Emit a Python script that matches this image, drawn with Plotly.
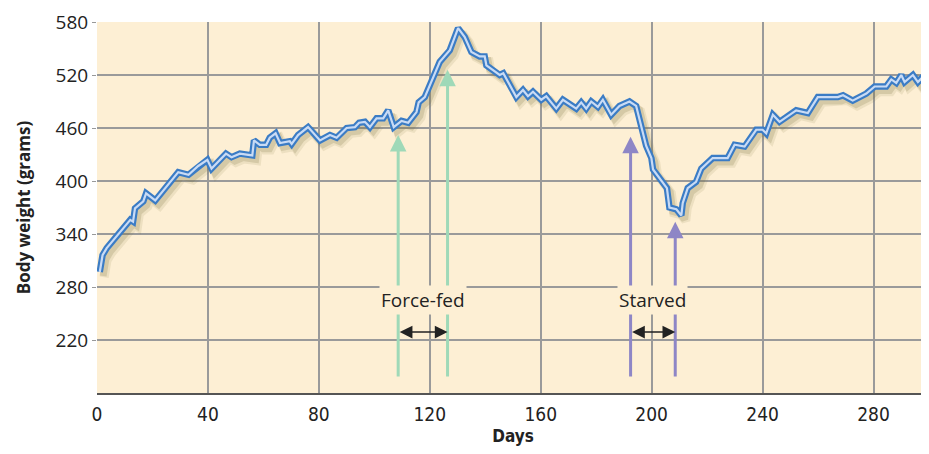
import plotly.graph_objects as go

# body weight curve
days = [1, 2, 3.5, 12, 13, 13.7, 16.7, 17.7, 21, 29.3, 33, 36.5, 39.8, 41.3,
        46.5, 48.5, 51.5, 56, 56.6, 58.7, 61, 62.3, 64.4, 66, 69.5, 70.2, 72.5,
        76.1, 80.4, 84, 86.4, 90, 93, 94.5, 96.6, 98.4, 100.8, 103.2, 105, 107,
        109.8, 112.2, 115.2, 116, 118.2, 123.6, 127.2, 130.2, 132.6, 135, 138,
        139.8, 140.4, 145.2, 146.5, 151.2, 153.6, 155.4, 157.2, 160.2, 162,
        165.6, 168, 172.8, 174.6, 176.4, 178.2, 180.6, 182.4, 185.4, 188.4, 192,
        194.4, 198, 199.9, 200.5, 205.5, 206.4, 208.9, 210.7, 211.2, 213, 216,
        217.9, 222, 227.4, 229.9, 233.5, 237.7, 240, 241.3, 243.7, 246.1, 252.1,
        256.3, 259.9, 267.1, 269, 272.5, 277.4, 280.4, 284.6, 286.4, 288.2, 290,
        291.2, 294.2, 296, 297.8, 300]
weight = [297, 316, 324, 356, 354, 369, 377, 386, 378, 410, 407, 417, 424, 414,
          431, 427, 431, 429, 446, 441, 441, 449, 454, 443, 445, 442, 452,
          461, 446, 452, 449, 460, 461, 466, 467, 461, 471, 471, 480, 461,
          468, 466, 478, 489, 495, 535, 548, 573, 563, 546, 541,
          541, 531, 520, 522, 495, 503, 496, 501, 492, 496,
          482, 492, 482, 489, 482, 490, 484, 492, 475, 485, 490,
          485, 440, 426, 413, 392, 370, 368, 361, 375, 392, 399,
          414, 426, 426, 441, 439, 458, 458, 454, 475, 467, 480,
          477, 495, 495, 497, 491, 499, 507, 507, 515, 511, 520,
          512, 520, 512, 518, 512]

# arrows: day, tip weight
fed_days = [108.6, 126.4]
fed_tips = [452, 526]
starve_days = [192.4, 208.5]
starve_tips = [450, 354]
arrow_base = 177
span_level = 229
label_level = 265

x_ticks = [0, 40, 80, 120, 160, 200, 240, 280]
y_ticks = [220, 280, 340, 400, 460, 520, 580]

BG = "#fdefd4"
GREEN = "#9fd9b8"
PURPLE = "#8e86c6"
NARROW = "Liberation Sans Narrow, DejaVu Sans Condensed, sans-serif"

fig = go.Figure()

# soft drop shadow under the line
for dx, dy, w, a in [(1.6, -6, 9, 0.12), (1.2, -4.5, 7, 0.2)]:
    fig.add_trace(go.Scatter(
        x=[d + dx for d in days], y=[v + dy for v in weight],
        mode="lines", line=dict(color="rgba(120,112,60,%s)" % a, width=w),
        hoverinfo="skip", showlegend=False))

fig.add_trace(go.Scatter(x=days, y=weight, mode="lines",
                         line=dict(color="#3b7cc5", width=6.5),
                         showlegend=False))
fig.add_trace(go.Scatter(x=days, y=weight, mode="lines",
                         line=dict(color="#c9dbf5", width=2.2),
                         showlegend=False, hoverinfo="skip"))

ann = []
for d, t in zip(fed_days, fed_tips):
    ann.append(dict(x=d, y=t, ax=d, ay=arrow_base, axref="x", ayref="y",
                    xref="x", yref="y", text="", showarrow=True,
                    arrowhead=2, arrowsize=1.1, arrowwidth=3,
                    arrowcolor=GREEN, standoff=0))
for d, t in zip(starve_days, starve_tips):
    ann.append(dict(x=d, y=t, ax=d, ay=arrow_base, axref="x", ayref="y",
                    xref="x", yref="y", text="", showarrow=True,
                    arrowhead=2, arrowsize=1.1, arrowwidth=3,
                    arrowcolor=PURPLE, standoff=0))
# double-headed span arrows
for pair in (fed_days, starve_days):
    ann.append(dict(x=pair[1], y=span_level, ax=pair[0], ay=span_level,
                    axref="x", ayref="y", xref="x", yref="y", text="",
                    showarrow=True, arrowside="end+start", arrowhead=2,
                    arrowsize=1.7, arrowwidth=1.5, arrowcolor="#222",
                    standoff=0, startstandoff=0))
# labels with a background so they break the lines behind them
for pair, label in ((fed_days, "Force-fed"), (starve_days, "Starved")):
    ann.append(dict(x=sum(pair) / 2, y=label_level, xref="x", yref="y",
                    text=label, showarrow=False, bgcolor=BG, borderpad=1,
                    font=dict(family="Open Sans, sans-serif", size=19,
                              color="#222")))

# page body has an 8px margin: keep the figure inside the window so no
# scrollbar appears
fig.update_layout(
    width=921, height=438,
    margin=dict(l=89, r=0, t=14, b=53),
    paper_bgcolor="white", plot_bgcolor=BG,
    annotations=ann,
    font=dict(family="Open Sans, sans-serif", color="#222"),
)
fig.update_xaxes(range=[0, 300], tickvals=x_ticks, showgrid=True,
                 gridcolor="#9a9a9a", gridwidth=2, zeroline=False,
                 showline=True, linecolor="#555", linewidth=2,
                 ticks="", ticklabelstandoff=3, automargin=False,
                 tickfont=dict(family=NARROW, size=19, color="#222"),
                 title=dict(text="<b>Days</b>", standoff=9,
                            font=dict(family=NARROW, size=17, color="#222")))
fig.update_yaxes(range=[160, 580], tickvals=y_ticks, showgrid=True,
                 gridcolor="#9a9a9a", gridwidth=2, zeroline=False,
                 showline=False, ticks="outside", ticklen=4,
                 tickcolor="#999", tickwidth=1, automargin=False,
                 tickfont=dict(size=19, color="#222"),
                 title=dict(text="<b>Body weight (grams)</b>", standoff=20,
                            font=dict(size=17, color="#222")))

fig.write_html("out.html")
